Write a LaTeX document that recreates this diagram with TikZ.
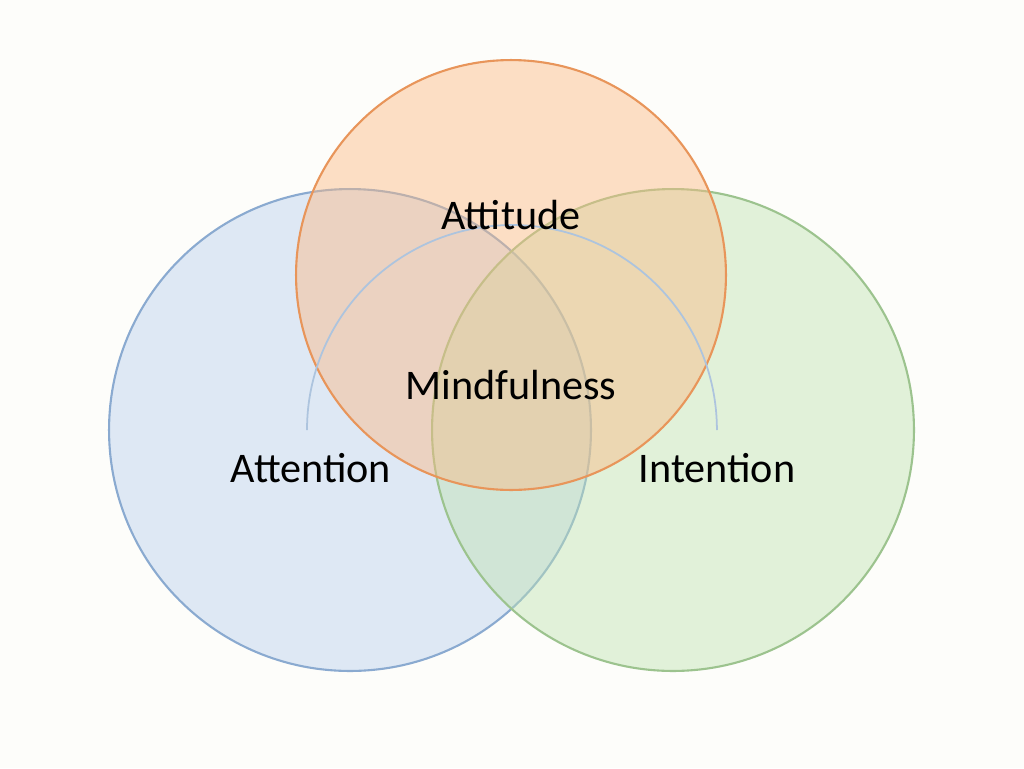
\documentclass[tikz,border=0pt]{standalone}
\usepackage{fontspec}
\setmainfont{Carlito}
\usetikzlibrary{positioning}
\definecolor{attnfill}{HTML}{B9CFEE}
\definecolor{attnline}{HTML}{8AAAD0}
\definecolor{attifill}{HTML}{FBB983}
\definecolor{attiline}{HTML}{E8955A}
\definecolor{intfill}{HTML}{BFE3B3}
\definecolor{intline}{HTML}{9CC38E}
\definecolor{bgpaper}{HTML}{FDFDFA}

\begin{document}
\begin{tikzpicture}[
  x=0.02cm, y=-0.02cm,
  every node/.style={font=\fontsize{24}{28}\selectfont},
  ring/.style={circle, line width=1.2pt, fill opacity=0.45, draw opacity=1},
  label/.style={text=black}
]
\fill[bgpaper] (0,0) rectangle (1024,768);
\useasboundingbox (0,0) rectangle (1024,768);

% === circles ===
\node[ring, draw=attnline, fill=attnfill, minimum size=9.64cm] (attention) at (350,430) {};
\node[ring, draw=intline, fill=intfill, minimum size=9.64cm] (intention) at (673,430) {};
\node[ring, draw=attiline, fill=attifill, minimum size=8.6cm] (attitude) at (511,275) {};

% inner arc
\coordinate (arcstart) at (307,430);
\draw[attnline!70, line width=1pt] (arcstart) arc[start angle=180, end angle=0, radius=4.1cm];

% === labels ===
\node[label] (attitudetxt) at (511,215) {Attitude};
\node[label] (mindtxt) at (511,385) {Mindfulness};
\node[label] (attentiontxt) at (311,468) {Attention};
\node[label] (intentiontxt) at (717,468) {Intention};
\end{tikzpicture}
\end{document}
